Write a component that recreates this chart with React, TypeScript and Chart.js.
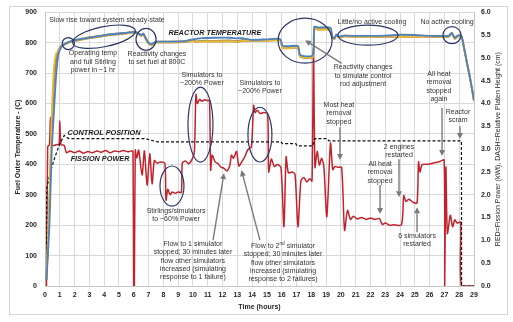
import React, { useEffect, useRef } from 'react';
import { Chart, registerables } from 'chart.js';

Chart.register(...registerables);

// ---------- data ----------
const tempHours = [
  0.1, 0.3, 0.45, 0.6, 0.75, 0.9, 1.1, 1.4, 1.8, 2.5,
  3.5, 4.5, 5.5, 6.1, 6.35, 6.5, 6.65, 6.8, 7.0, 7.2,
  7.5, 8.5, 9.5, 10.0, 10.2, 10.6, 11.5, 12.5, 13.0, 13.3,
  14.0, 15.0, 15.9, 16.05, 16.4, 17.1, 17.25, 18.1, 18.2, 18.5,
  19.3, 19.4, 19.55, 19.7, 19.9, 20.2, 21, 22, 23, 24,
  25, 26, 27, 27.3, 27.5, 27.7, 27.9, 28.15, 28.3, 28.5,
  28.75, 29.0,
];
const tempOlive = [
  20, 260, 500, 660, 740, 775, 790, 798, 806, 813,
  821, 828, 833, 836, 830, 825, 830, 815, 800, 795,
  803, 803, 805, 808, 804, 806, 806, 807, 805, 808,
  808, 809, 809, 786, 784, 785, 756, 755, 848, 845,
  845, 820, 814, 826, 819, 823, 822, 821, 822, 821,
  822, 822, 821, 822, 832, 815, 823, 822, 790, 740,
  680, 610,
];
const tempBlue = [
  20, 200, 440, 570, 690, 760, 785, 797, 805, 812,
  820, 827, 832, 835, 829, 824, 829, 815, 800, 795,
  803, 803, 805, 811, 812, 815, 816, 816, 814, 815,
  809, 811, 812, 790, 788, 789, 759, 758, 852, 850,
  849, 821, 814, 826, 819, 823, 822, 822, 823, 826,
  825, 822, 821, 822, 832, 815, 823, 822, 790, 740,
  680, 610,
];
const tempOrange = [
  20, 280, 520, 680, 760, 770, 787, 795, 803, 810,
  818, 825, 830, 833, 827, 822, 827, 812, 797, 792,
  800, 800, 802, 805, 801, 803, 803, 804, 802, 805,
  805, 806, 806, 783, 781, 782, 753, 752, 845, 842,
  842, 817, 811, 823, 816, 820, 819, 818, 819, 818,
  819, 819, 818, 819, 829, 812, 820, 819, 787, 737,
  677, 607,
];
const tempYellow = [
  20, 300, 560, 720, 765, 772, 788, 796, 804, 811,
  819, 826, 831, 834, 828, 823, 828, 813, 798, 793,
  801, 801, 803, 806, 802, 804, 804, 805, 803, 806,
  806, 807, 807, 784, 782, 783, 754, 753, 846, 843,
  843, 818, 812, 824, 817, 821, 820, 819, 820, 819,
  820, 820, 819, 820, 830, 813, 821, 820, 788, 738,
  678, 608,
];

const powerHours = [
  0.1, 0.18, 0.3, 0.37, 0.42, 0.6, 0.8, 0.95, 1.0, 1.08,
  1.3, 1.45, 1.7, 2.0, 2.3, 2.6, 2.9, 3.2, 3.5, 3.8,
  4.1, 4.4, 4.7, 5.0, 5.3, 5.6, 5.85, 5.95, 5.99, 6.04,
  6.1, 6.2, 6.33, 6.56, 6.72, 6.9, 7.08, 7.24, 7.39, 7.58,
  7.8, 8.1, 8.18, 8.3, 8.45, 8.6, 8.8, 9.0, 9.22, 9.28,
  9.5, 9.7, 9.95, 10.1, 10.2, 10.3, 10.45, 10.6, 10.8, 11.0,
  11.12, 11.2, 11.3, 11.5, 11.7, 11.9, 12.1, 12.3, 12.5, 12.6,
  12.75, 12.95, 13.1, 13.3, 13.5, 13.7, 13.95, 14.1, 14.2, 14.35,
  14.55, 14.8, 15.05, 15.12, 15.3, 15.5, 15.7, 15.95, 16.15, 16.3,
  16.45, 16.7, 16.9, 17.1, 17.3, 17.5, 17.7, 17.9, 18.05, 18.15,
  18.25, 18.4, 18.55, 18.7, 18.85, 19.05, 19.3, 19.45, 19.6, 19.8,
  20.05, 20.25, 20.45, 20.65, 20.85, 21.1, 21.4, 21.7, 22.0, 22.3,
  22.6, 22.8, 23.0, 23.3, 23.6, 24.1, 24.25, 24.4, 24.6, 24.9,
  25.15, 25.25, 25.35, 25.5, 25.9, 26.3, 26.7, 26.98, 27.02, 27.1,
  27.2, 27.4, 27.55, 27.7, 27.85, 28.1, 28.15, 29.0,
];
const powerKw = [
  0, 3.05, 3.1, 3.7, 3.1, 3.08, 3.1, 3.1, 3.62, 3.1,
  3.08, 2.92, 2.96, 2.92, 2.96, 2.91, 2.95, 2.92, 2.96, 2.93,
  2.97, 2.92, 2.96, 2.94, 2.97, 2.94, 2.96, 2.95, 0, 0,
  2.98, 2.8, 2.98, 2.43, 2.96, 2.21, 2.9, 2.24, 2.75, 2.69,
  2.72, 2.69, 1.88, 2.12, 2.0, 2.06, 2.03, 2.06, 2.05, 2.69,
  2.74, 2.68, 2.78, 2.95, 4.2, 4.0, 4.09, 4.05, 4.08, 4.06,
  4.07, 2.54, 2.87, 2.72, 2.68, 2.6, 2.58, 2.52, 2.65, 2.87,
  2.8, 2.95, 2.63, 2.72, 2.83, 2.98, 3.05, 3.96, 3.8, 3.85,
  3.78, 3.8, 3.77, 2.5, 2.78, 2.62, 2.66, 2.6, 1.3, 2.83,
  2.48, 2.5, 2.45, 1.3, 2.3, 2.38, 2.28, 2.35, 2.3, 5.2,
  2.6, 2.95, 2.65, 2.8, 2.62, 1.52, 3.13, 2.55, 2.62, 2.6,
  2.6, 1.22, 1.66, 1.46, 1.53, 1.47, 1.5, 1.46, 1.49, 1.46,
  1.48, 1.35, 1.38, 1.33, 1.34, 1.34, 1.98, 1.85, 1.9, 1.83,
  1.82, 2.72, 2.5, 2.66, 2.67, 2.7, 2.73, 2.76, 0, 2.6,
  1.15, 1.55, 1.3, 1.45, 1.38, 1.4, 0, 0,
];

const controlHours = [0.1, 0.12, 0.3, 0.5, 0.7, 1.0, 1.3, 1.6, 6.8, 7.2, 7.6, 15.95, 16.05, 16.95, 17.05, 18.1, 18.25, 19.05, 19.2, 28.15, 28.16, 29.0];
const controlCm = [0.15, 2.15, 2.4, 2.65, 2.85, 3.12, 3.3, 3.23, 3.23, 3.19, 3.16, 3.16, 3.12, 3.12, 3.07, 3.07, 3.23, 3.23, 3.18, 3.18, 0, 0];

// ---------- annotations (anchored in data units: hours, °C) ----------
const notes = [
  { h: 4.19, t: 874, lines: ['Slow rise toward system steady-state'] },
  { h: 11.49, t: 831, lines: ['REACTOR TEMPERATURE'], strong: true },
  { h: 3.24, t: 765, lines: ['Operating temp', 'and full Stirling', 'power in ~1 hr'] },
  { h: 7.57, t: 764, lines: ['Reactivity changes', 'to set fuel at 800C'] },
  { h: 10.61, t: 693, lines: ['Simulators to', '~200% Power'] },
  { h: 14.53, t: 668, lines: ['Simulators to', '~200% Power'] },
  { h: 22.1, t: 867, lines: ['Little/no active cooling'] },
  { h: 27.18, t: 867, lines: ['No active cooling'] },
  { h: 21.5, t: 719, lines: ['Reactivity changes', 'to simulate control', 'rod adjustment'] },
  { h: 26.63, t: 696, lines: ['All heat', 'removal', 'stopped', 'again'] },
  { h: 19.87, t: 595, lines: ['Most heat', 'removal', 'stopped'] },
  { h: 27.92, t: 572, lines: ['Reactor', 'scram'] },
  { h: 23.93, t: 457, lines: ['2 engines', 'restarted'] },
  { h: 3.99, t: 503, lines: ['CONTROL POSITION'], strong: true },
  { h: 3.72, t: 417, lines: ['FISSION POWER'], strong: true },
  { h: 8.86, t: 246, lines: ['Stirlings/simulators', 'to ~60% Power'] },
  { h: 10.0, t: 138, lines: ['Flow to 1 simulator', 'stopped; 30 minutes later', 'flow other simulators', 'increased (simulating', 'response to 1 failure)'] },
  { h: 16.09, t: 131, lines: ['Flow to 2|nd| simulator', 'stopped; 30 minutes later', 'flow other simulators', 'increased (simulating', 'response to 2 failures)'] },
  { h: 22.65, t: 401, lines: ['All heat', 'removal', 'stopped'] },
  { h: 25.15, t: 164, lines: ['6 simulators', 'restarted'] },
];

const ellipses = [
  { h: 1.575, t: 797, rh: 0.41, rt: 19.7, rot: 0 },
  { h: 3.99, t: 819.5, rh: 2.16, rt: 32.8, rot: -0.2 },
  { h: 6.83, t: 811, rh: 0.68, rt: 36, rot: 0 },
  { h: 10.51, t: 530.5, rh: 0.845, rt: 123, rot: 0 },
  { h: 14.53, t: 497.6, rh: 0.81, rt: 90, rot: 0 },
  { h: 8.585, t: 328.5, rh: 0.81, rt: 66, rot: 0 },
  { h: 17.58, t: 806.4, rh: 1.825, rt: 74, rot: 0 },
  { h: 21.83, t: 824.5, rh: 2.03, rt: 33, rot: 0 },
  { h: 27.51, t: 824.5, rh: 0.61, rt: 28, rot: 0 },
];

const arrows = [
  { h1: 20.05, t1: 731.5, h2: 17.58, t2: 808 },
  { h1: 19.94, t1: 522, h2: 19.94, t2: 414 },
  { h1: 26.84, t1: 585, h2: 26.84, t2: 427 },
  { h1: 28.05, t1: 525, h2: 28.05, t2: 483 },
  { h1: 23.93, t1: 417, h2: 23.93, t2: 292 },
  { h1: 22.65, t1: 332, h2: 22.65, t2: 236.5 },
  { h1: 25.15, t1: 177, h2: 25.15, t2: 259 },
  { h1: 11.36, t1: 151, h2: 12.1, t2: 371 },
  { h1: 14.53, t1: 151, h2: 13.28, t2: 381 },
];

const FONT = '"Liberation Sans", Arial, Helvetica, sans-serif';

function pts(xs: number[], ys: number[]) {
  return xs.map((x, i) => ({ x, y: ys[i] }));
}

export default function App() {
  const ref = useRef<HTMLCanvasElement>(null);

  useEffect(() => {
    document.body.style.margin = '0';
    const canvas = ref.current!;

    const annot = {
      id: 'annot',
      beforeDraw(chart: any) {
        const ctx = chart.ctx as CanvasRenderingContext2D;
        ctx.save();
        ctx.fillStyle = '#ffffff';
        ctx.fillRect(0, 0, chart.width, chart.height);
        ctx.strokeStyle = '#d4d4d4';
        ctx.lineWidth = 1;
        ctx.strokeRect(9.5, 6.5, chart.width - 15, chart.height - 14);
        ctx.restore();
      },
      afterDraw(chart: any) {
        const ctx = chart.ctx as CanvasRenderingContext2D;
        const xs = chart.scales.x;
        const ys = chart.scales.y;
        const area = chart.chartArea;
        const px = (h: number) => xs.getPixelForValue(h);
        const py = (t: number) => ys.getPixelForValue(t);
        const pxPerH = px(1) - px(0);
        const pxPerT = py(0) - py(1);
        ctx.save();

        // ellipses
        ctx.strokeStyle = '#2d3768';
        ctx.lineWidth = 1.2;
        for (const e of ellipses) {
          ctx.beginPath();
          ctx.ellipse(px(e.h), py(e.t), e.rh * pxPerH, e.rt * pxPerT, e.rot, 0, Math.PI * 2);
          ctx.stroke();
        }

        // arrows
        ctx.strokeStyle = '#7a7a7a';
        ctx.fillStyle = '#7a7a7a';
        ctx.lineWidth = 1.4;
        for (const a of arrows) {
          const x1 = px(a.h1), y1 = py(a.t1), x2 = px(a.h2), y2 = py(a.t2);
          const ang = Math.atan2(y2 - y1, x2 - x1);
          const hl = 6, hw = 3;
          ctx.beginPath();
          ctx.moveTo(x1, y1);
          ctx.lineTo(x2 - Math.cos(ang) * hl, y2 - Math.sin(ang) * hl);
          ctx.stroke();
          ctx.beginPath();
          ctx.moveTo(x2, y2);
          ctx.lineTo(x2 - Math.cos(ang) * hl - Math.sin(ang) * hw, y2 - Math.sin(ang) * hl + Math.cos(ang) * hw);
          ctx.lineTo(x2 - Math.cos(ang) * hl + Math.sin(ang) * hw, y2 - Math.sin(ang) * hl - Math.cos(ang) * hw);
          ctx.closePath();
          ctx.fill();
        }

        // text notes
        ctx.textBaseline = 'middle';
        const lh = 8.3;
        for (const n of notes) {
          const cx = px(n.h);
          const cy = py(n.t);
          n.lines.forEach((line, i) => {
            const y = cy + i * lh;
            if (n.strong) {
              ctx.font = `italic bold 7.3px ${FONT}`;
              ctx.fillStyle = '#1a1a1a';
              ctx.textAlign = 'center';
              ctx.fillText(line, cx, y);
              return;
            }
            ctx.fillStyle = '#333333';
            const segs = line.split('|');
            if (segs.length === 1) {
              ctx.font = `7px ${FONT}`;
              ctx.textAlign = 'center';
              ctx.fillText(line, cx, y);
              return;
            }
            const fonts = segs.map((_, k) => (k % 2 === 1 ? `4.8px ${FONT}` : `7px ${FONT}`));
            let total = 0;
            const widths = segs.map((s, k) => {
              ctx.font = fonts[k];
              const w = ctx.measureText(s).width;
              total += w;
              return w;
            });
            let x = cx - total / 2;
            ctx.textAlign = 'left';
            segs.forEach((s, k) => {
              ctx.font = fonts[k];
              ctx.fillText(s, x, k % 2 === 1 ? y - 2 : y);
              x += widths[k];
            });
          });
        }

        // axis titles
        ctx.fillStyle = '#262626';
        ctx.textAlign = 'center';
        ctx.textBaseline = 'middle';
        const midY = (area.top + area.bottom) / 2;
        ctx.font = `bold 7px ${FONT}`;
        ctx.save();
        ctx.translate(18.5, midY - 2);
        ctx.rotate(-Math.PI / 2);
        ctx.fillText('Fuel Outer Temperature - (C)', 0, 0);
        ctx.restore();

        ctx.font = `7px ${FONT}`;
        ctx.save();
        ctx.translate(498, midY);
        ctx.rotate(-Math.PI / 2);
        ctx.fillText('RED=Fission Power (kWt), DASH=Relative Platen Height (cm)', 0, 0);
        ctx.restore();

        ctx.font = `bold 7px ${FONT}`;
        ctx.fillText('Time (hours)', (area.left + area.right) / 2, 307);
        ctx.restore();
      },
    };

    const tickFont = { family: FONT, size: 7, weight: 'bold' as const };

    const chart = new Chart(canvas, {
      type: 'line',
      data: {
        datasets: [
          { data: pts(tempHours, tempBlue), yAxisID: 'y', borderColor: '#4f81bd', borderWidth: 1.8, tension: 0.2 },
          { data: pts(tempHours, tempYellow), yAxisID: 'y', borderColor: '#e3bf3a', borderWidth: 1.6, tension: 0.2 },
          { data: pts(tempHours, tempOrange), yAxisID: 'y', borderColor: '#d98a3a', borderWidth: 1.8, tension: 0.2 },
          { data: pts(tempHours, tempOlive), yAxisID: 'y', borderColor: '#8a7f55', borderWidth: 1.8, tension: 0.2 },
          { data: pts(controlHours, controlCm), yAxisID: 'y2', borderColor: '#111111', borderWidth: 1.2, borderDash: [3, 2], tension: 0 },
          { data: pts(powerHours, powerKw), yAxisID: 'y2', borderColor: '#c3222c', borderWidth: 1.5, tension: 0.25 },
        ],
      },
      options: {
        responsive: false,
        animation: false,
        devicePixelRatio: 1,
        layout: { padding: { top: 12, left: 0, right: 0, bottom: 0 } },
        plugins: { legend: { display: false }, tooltip: { enabled: false } },
        elements: { point: { radius: 0 } },
        scales: {
          x: {
            type: 'linear',
            min: 0,
            max: 29,
            ticks: { stepSize: 1, padding: 5, font: tickFont, color: '#262626', maxRotation: 0, autoSkip: false, callback: (v: any) => String(v) },
            grid: { color: '#d9d9d9', drawTicks: false },
            border: { color: '#c8c8c8' },
            afterFit: (s: any) => { s.height = 36; },
          },
          y: {
            position: 'left',
            min: 0,
            max: 900,
            ticks: { stepSize: 100, padding: 8, font: tickFont, color: '#262626' },
            grid: { color: '#d9d9d9', drawTicks: false },
            border: { color: '#c8c8c8' },
            afterFit: (s: any) => { s.width = 45; },
          },
          y2: {
            position: 'right',
            min: 0,
            max: 6,
            ticks: { stepSize: 0.5, padding: 7, font: tickFont, color: '#262626', callback: (v: any) => Number(v).toFixed(1) },
            grid: { display: false, drawTicks: false },
            border: { display: true, color: '#c8c8c8' },
            afterFit: (s: any) => { s.width = 39; },
          },
        },
      },
      plugins: [annot],
    } as any);

    return () => chart.destroy();
  }, []);

  return <canvas ref={ref} width={513} height={322} style={{ display: 'block' }} />;
}
